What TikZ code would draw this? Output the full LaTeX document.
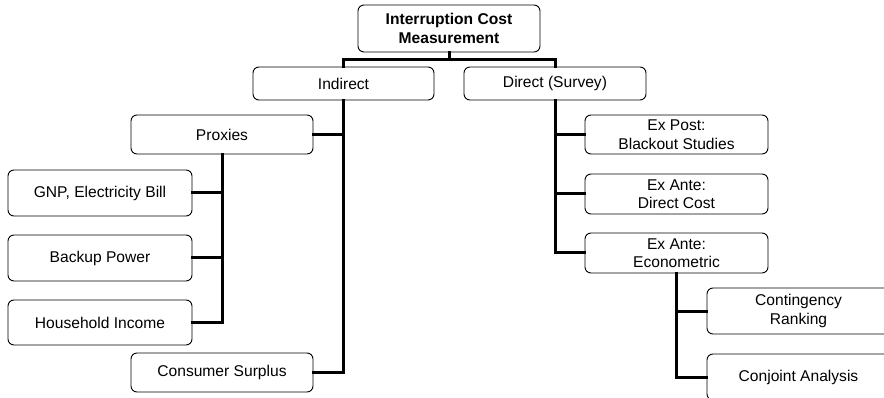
\documentclass[tikz,border=0pt]{standalone}
\usepackage{fontspec}
\setmainfont{Liberation Sans}
\begin{document}
\begin{tikzpicture}[x=1pt,y=-1pt,
  box/.style={draw=black, line width=0.9pt, rounded corners=6pt, fill=white,
    inner sep=0pt, align=center, font=\fontsize{15.6}{18.5}\selectfont},
  link/.style={draw=black, line width=3pt, line cap=rect}
]
\useasboundingbox (0,0) rectangle (884,398);
\clip (0,0) rectangle (884,398);

% root and first level
\node[box, minimum width=182pt, minimum height=47pt, font=\fontsize{15.6}{18.5}\selectfont\bfseries]
  (root) at (449,28.5) {Interruption Cost\\Measurement};
\node[box, minimum width=181pt, minimum height=33pt] (ind) at (343.5,83.5) {Indirect};
\node[box, minimum width=182pt, minimum height=33pt] (dir) at (555,83.5) {Direct (Survey)};

% indirect branch
\node[box, minimum width=182pt, minimum height=39pt] (prox) at (222,134.5) {Proxies};
\node[box, minimum width=184pt, minimum height=46pt] (gnp) at (100,193) {GNP, Electricity Bill};
\node[box, minimum width=184pt, minimum height=46pt] (backup) at (100,258) {Backup Power};
\node[box, minimum width=184pt, minimum height=45pt] (house) at (100,322.5) {Household Income};
\node[box, minimum width=182pt, minimum height=39pt] (surplus) at (222,372.5) {Consumer Surplus};

% direct branch
\node[box, minimum width=183pt, minimum height=39pt] (expost) at (676.5,134.5) {Ex Post:\\Blackout Studies};
\node[box, minimum width=183pt, minimum height=40pt] (excost) at (676.5,194) {Ex Ante:\\Direct Cost};
\node[box, minimum width=183pt, minimum height=40pt] (econ) at (676.5,253) {Ex Ante:\\Econometric};
\node[box, minimum width=183pt, minimum height=46pt] (cont) at (798.5,311) {Contingency\\Ranking};
\node[box, minimum width=183pt, minimum height=46pt] (conj) at (798.5,377) {Conjoint Analysis};

% tree connectors: elbow lines from each parent's centre to its children
\draw[link] (root.south) -- ++(0,7) coordinate (split) -| (ind.north);
\draw[link] (split) -| (dir.north);

\draw[link] (ind.south) |- (prox.east);
\draw[link] (ind.south) |- (surplus.east);

\draw[link] (prox.south) |- (gnp.east);
\draw[link] (prox.south) |- (backup.east);
\draw[link] (prox.south) |- (house.east);

\draw[link] (dir.south) |- (expost.west);
\draw[link] (dir.south) |- (excost.west);
\draw[link] (dir.south) |- (econ.west);

\draw[link] (econ.south) |- (cont.west);
\draw[link] (econ.south) |- (conj.west);
\end{tikzpicture}
\end{document}
